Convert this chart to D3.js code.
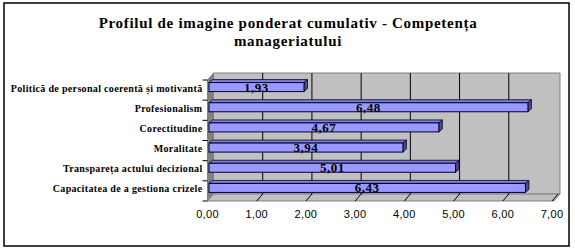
<!DOCTYPE html>
<html>
<head>
<meta charset="utf-8">
<script src="https://cdn.jsdelivr.net/npm/d3@7"></script>
<style>
  body { margin: 0; background: #fff; }
  svg { display: block; }
</style>
</head>
<body>
<div id="chart"></div>
<script>
const titleLines = ["Profilul de imagine ponderat cumulativ - Competența", "manageriatului"];
const categories = [
    "Politică de personal coerentă și motivantă",
    "Profesionalism",
    "Corectitudine",
    "Moralitate",
    "Transpareța actului decizional",
    "Capacitatea de a gestiona crizele"
];
const values = [1.93, 6.48, 4.67, 3.94, 5.01, 6.43];
const ticks = [0, 1, 2, 3, 4, 5, 6, 7];

const width = 575;
const height = 252;

// oblique depth of the 3D box
const depthX = 6;
const depthY = -7;

const svg = d3.select("#chart").append("svg")
    .attr("width", width)
    .attr("height", height);

// outer frame
svg.append("rect")
    .attr("x", 4).attr("y", 3)
    .attr("width", 565).attr("height", 243)
    .attr("fill", "#fff")
    .attr("stroke", "#000")
    .attr("stroke-width", 1.5);

const title = svg.append("text")
    .attr("text-anchor", "middle")
    .attr("font-family", "'Liberation Serif', 'Times New Roman', serif")
    .attr("font-weight", "bold")
    .attr("font-size", 15)
    .attr("letter-spacing", 0.7);
titleLines.forEach((line, i) => {
    title.append("tspan").attr("x", 288).attr("y", 28 + i * 18).text(line);
});

const x = d3.scaleLinear().domain([0, 7]).range([207.5, 552]);
const y = d3.scaleBand().domain(categories).range([80, 201]);

const x0 = x(0), x1 = x(7);
const yTop = y.range()[0], yBot = y.range()[1];

const pts = p => p.map(d => d.join(",")).join(" ");

// back wall
svg.append("polygon")
    .attr("points", pts([[x0 + depthX, yTop + depthY], [x1 + depthX + 2, yTop + depthY],
        [x1 + depthX + 2, yBot + depthY], [x0 + depthX, yBot + depthY]]))
    .attr("fill", "#c0c0c0")
    .attr("stroke", "#808080");

// left wall
svg.append("polygon")
    .attr("points", pts([[x0, yTop], [x0 + depthX, yTop + depthY],
        [x0 + depthX, yBot + depthY], [x0, yBot]]))
    .attr("fill", "#808080")
    .attr("stroke", "#808080");

// floor
svg.append("polygon")
    .attr("points", pts([[x0, yBot], [x0 + depthX, yBot + depthY],
        [x1 + depthX + 2, yBot + depthY], [x1 + 2, yBot]]))
    .attr("fill", "#c0c0c0")
    .attr("stroke", "#808080");

// gridlines on back wall and floor
svg.selectAll(".grid")
    .data(ticks.slice(1, -1))
    .enter().append("line")
    .attr("class", "grid")
    .attr("x1", d => x(d) + depthX).attr("x2", d => x(d) + depthX)
    .attr("y1", yTop + depthY).attr("y2", yBot + depthY)
    .attr("stroke", "#000");

svg.selectAll(".floorgrid")
    .data(ticks.slice(1))
    .enter().append("line")
    .attr("class", "floorgrid")
    .attr("x1", d => x(d) + depthX).attr("y1", yBot + depthY)
    .attr("x2", d => x(d)).attr("y2", yBot)
    .attr("stroke", "#000");

// category ticks on the left wall edge
svg.selectAll(".ytick")
    .data(categories.map(c => y(c)).concat([yBot]))
    .enter().append("line")
    .attr("class", "ytick")
    .attr("x1", x0 - 5).attr("x2", x0)
    .attr("y1", d => d).attr("y2", d => d)
    .attr("stroke", "#000");

// bars
const barH = 9;
const fx = 1.5, fy = -3;   // front face offset
const bx = 5, by = -6;     // back face offset
const barTop = c => y(c) + (y.bandwidth() - barH) / 2 + fy;

const bars = svg.selectAll(".bar")
    .data(categories.map((c, i) => ({ c, v: values[i] })))
    .enter().append("g")
    .attr("class", "bar");

bars.append("polygon") // top face
    .attr("points", d => {
        const t = barTop(d.c), l = x(0) + fx, r = x(d.v) + fx;
        return pts([[l, t], [l + bx - fx, t + by - fy], [r + bx - fx, t + by - fy], [r, t]]);
    })
    .attr("fill", "#7f7fd4")
    .attr("stroke", "#000033")
    .attr("stroke-width", 0.8);

bars.append("polygon") // right end
    .attr("points", d => {
        const t = barTop(d.c), r = x(d.v) + fx;
        return pts([[r, t], [r + bx - fx, t + by - fy], [r + bx - fx, t + barH + by - fy], [r, t + barH]]);
    })
    .attr("fill", "#4d4d80")
    .attr("stroke", "#000033")
    .attr("stroke-width", 0.8);

bars.append("rect") // front face
    .attr("x", x(0) + fx)
    .attr("y", d => barTop(d.c))
    .attr("width", d => x(d.v) - x(0))
    .attr("height", barH)
    .attr("fill", "#9999ff")
    .attr("stroke", "#000033")
    .attr("stroke-width", 1);

// value labels
bars.append("text")
    .attr("x", d => (x(0) + x(d.v)) / 2 + fx)
    .attr("y", d => barTop(d.c) + barH / 2 + 4.5)
    .attr("text-anchor", "middle")
    .attr("font-family", "'Liberation Serif', 'Times New Roman', serif")
    .attr("font-weight", "bold")
    .attr("font-size", 13)
    .attr("letter-spacing", 0.5)
    .text(d => d3.format(".2f")(d.v).replace(".", ","));

// category labels
svg.selectAll(".cat")
    .data(categories)
    .enter().append("text")
    .attr("class", "cat")
    .attr("x", x0 - 5)
    .attr("y", d => y(d) + y.bandwidth() / 2 + 1.5)
    .attr("text-anchor", "end")
    .attr("font-family", "'Liberation Serif', 'Times New Roman', serif")
    .attr("font-weight", "bold")
    .attr("font-size", 10)
    .attr("letter-spacing", 0.33)
    .text(d => d);

// x tick labels
svg.selectAll(".xlab")
    .data(ticks)
    .enter().append("text")
    .attr("class", "xlab")
    .attr("x", d => x(d))
    .attr("y", 218)
    .attr("text-anchor", "middle")
    .attr("font-family", "'Liberation Sans', Arial, sans-serif")
    .attr("font-size", 11)
    .attr("letter-spacing", 0.3)
    .text(d => d3.format(".2f")(d).replace(".", ","));
</script>
</body>
</html>
